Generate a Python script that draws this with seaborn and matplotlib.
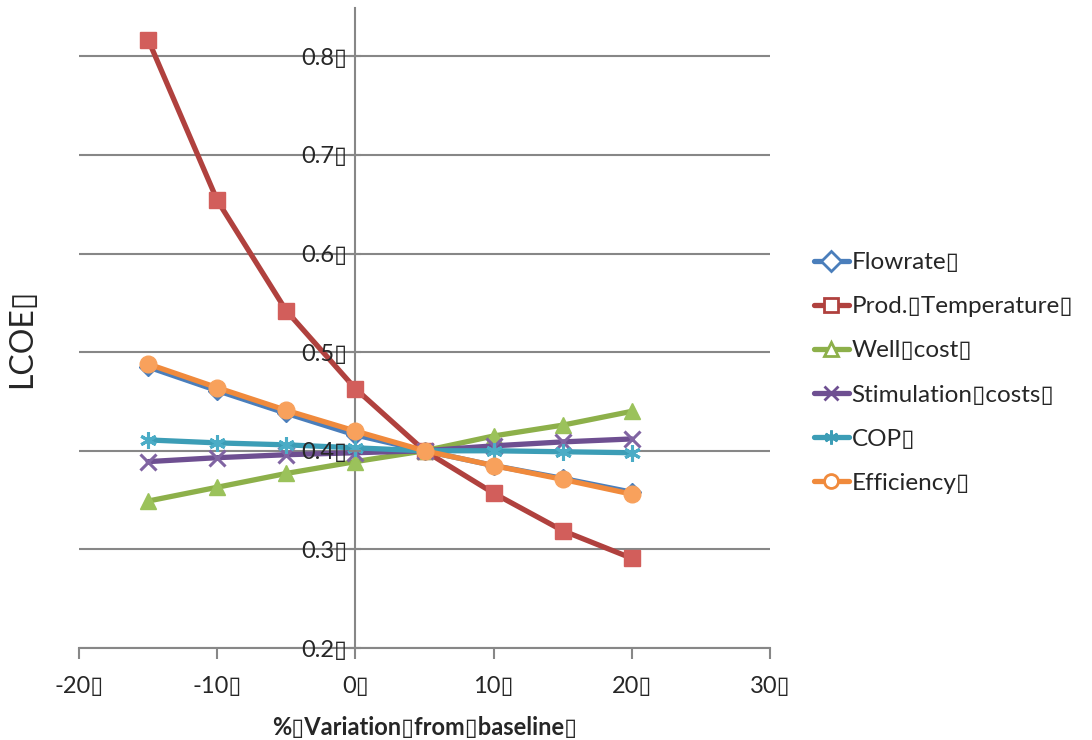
import matplotlib
matplotlib.use("Agg")
import matplotlib.pyplot as plt
import seaborn as sns
import pandas as pd
from matplotlib.lines import Line2D

B = "\u25AF"
variation = [-15, -10, -5, 0, 5, 10, 15, 20]
flowrate = [0.485, 0.461, 0.438, 0.416, 0.400, 0.385, 0.372, 0.358]
prod_temp = [0.817, 0.654, 0.542, 0.463, 0.400, 0.357, 0.319, 0.291]
well_cost = [0.349, 0.363, 0.377, 0.389, 0.400, 0.415, 0.426, 0.440]
stim_cost = [0.389, 0.393, 0.396, 0.398, 0.400, 0.405, 0.409, 0.412]
cop = [0.411, 0.408, 0.406, 0.403, 0.400, 0.400, 0.399, 0.398]
efficiency = [0.488, 0.464, 0.441, 0.420, 0.400, 0.385, 0.371, 0.356]

series_names = ["Flowrate" + B, "Prod." + B + "Temperature" + B, "Well" + B + "cost" + B,
                "Stimulation" + B + "costs" + B, "COP" + B, "Efficiency" + B]
series_vals = [flowrate, prod_temp, well_cost, stim_cost, cop, efficiency]
line_colors = ["#4A7EBB", "#B0413E", "#8DB04A", "#6E4F91", "#3C9DB6", "#F08A3C"]
face_colors = ["#4A7EBB", "#D25E5B", "#9BC25B", "#8064A2", "#4BACC6", "#F8A15C"]
markers = ["D", "s", "^", "x", (6, 2, 0), "o"]
x_ticks = [-20, -10, 0, 10, 20, 30]
y_ticks = [0.2, 0.3, 0.4, 0.5, 0.6, 0.7, 0.8]

rows = []
for name, vals in zip(series_names, series_vals):
    for xv, yv in zip(variation, vals):
        rows.append({"x": xv, "y": yv, "series": name})
df = pd.DataFrame(rows)

sns.set_style("white")
plt.rcParams["font.family"] = ["Lato", "DejaVu Sans"]

fig = plt.figure(figsize=(10.92, 7.4), dpi=100)
ax = fig.add_axes([79 / 1092, 1 - 648 / 740, (770 - 79) / 1092, (648 - 8) / 740])

gray = "#878787"
ax.set_xlim(-20, 30)
ax.set_ylim(0.2, 0.849)

# horizontal gridlines beneath the data
ax.hlines(y_ticks, -20, 30, colors=gray, linewidth=1.5, zorder=0.5)

sizes = {"D": 9, "s": 12, "^": 11, "x": 11, (6, 2, 0): 12, "o": 12}
for name, lc, fc, mk in zip(series_names, line_colors, face_colors, markers):
    sub = df[df["series"] == name]
    sns.lineplot(data=sub, x="x", y="y", ax=ax, color=lc, linewidth=3.8,
                 marker=mk, markersize=sizes[mk], markerfacecolor=fc,
                 markeredgecolor=fc,
                 markeredgewidth=2.2 if mk in ("x", (6, 2, 0)) else 1,
                 label=name, legend=False)

for s in ["top", "right"]:
    ax.spines[s].set_visible(False)
ax.spines["left"].set_position(("data", 0))
ax.spines["left"].set_color(gray)
ax.spines["left"].set_linewidth(1.5)
ax.spines["left"].set_zorder(0.6)
ax.spines["bottom"].set_color(gray)
ax.spines["bottom"].set_linewidth(1.5)

ax.set_xticks(x_ticks)
ax.set_xticklabels([f"{v}" + B for v in x_ticks])
ax.set_yticks(y_ticks)
ax.set_yticklabels([f"{v:.1f}" + B for v in y_ticks])
ax.tick_params(axis="x", direction="out", length=8, width=1.5, color=gray, pad=12,
               bottom=True, labelsize=17)
ax.tick_params(axis="y", direction="inout", length=8, width=1.5, color=gray, pad=2,
               left=True, labelsize=17)
ax.grid(False)
ax.set_axisbelow(False)
ax.yaxis.set_zorder(5)

ax.set_xlabel("%" + B + "Variation" + B + "from" + B + "baseline" + B, fontsize=17,
              fontweight="bold", labelpad=14)
ax.set_ylabel("")
fig.text(22 / 1092, 1 - 338 / 740, "LCOE" + B, rotation=90, fontsize=23,
         ha="center", va="center")

handles = [Line2D([0], [0], color=lc, marker=m, linewidth=3.8, markersize=10,
                  markerfacecolor="white", markeredgecolor=lc, markeredgewidth=2)
           for lc, m in zip(line_colors, markers)]
fig.legend(handles, series_names, loc="center left",
           bbox_to_anchor=(792 / 1092, 1 - 373 / 740), frameon=False,
           fontsize=17.5, labelspacing=0.95, handlelength=1.45, handletextpad=0.1)

fig.savefig("out.png", dpi=100)
